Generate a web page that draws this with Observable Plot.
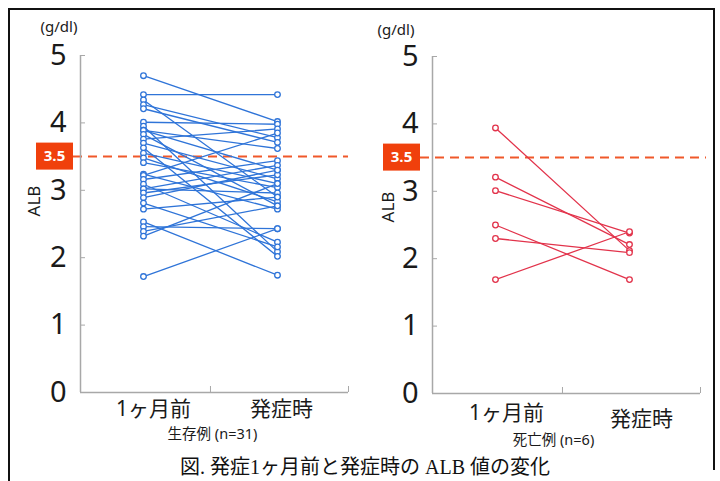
<!DOCTYPE html>
<html><head><meta charset="utf-8">
<script src="https://cdn.jsdelivr.net/npm/d3@7"></script>
<script src="https://cdn.jsdelivr.net/npm/@observablehq/plot@0.6"></script>
<style>
html,body{margin:0;padding:0;background:#fff;}
#wrap{position:relative;width:720px;height:481px;overflow:hidden;font-family:"Open Sans","Noto Sans CJK JP",sans-serif;}
#frameBox{position:absolute;left:8px;top:8px;width:703px;height:460px;border:2px solid #111;border-bottom:none;}
#leftEdge{position:absolute;left:8px;top:460px;width:2px;height:30px;background:#111;}
.panel{position:absolute;top:0;}
#caption{position:absolute;left:0;width:730px;top:455px;line-height:24px;text-align:center;font-family:"Liberation Serif","DejaVu Serif","Noto Sans CJK JP",serif;font-size:20px;color:#111;}
</style></head>
<body><div id="wrap"><div id="frameBox"></div><div id="leftEdge"></div>
<div id="p1" class="panel" style="left:0px"></div>
<div id="p2" class="panel" style="left:352px;top:1px"></div>
<div id="caption">図. 発症1ヶ月前と発症時の ALB 値の変化</div>
</div>
<script>
const categories = ["1ヶ月前", "発症時"];
const yTicks = [0, 1, 2, 3, 4, 5];
const threshold = 3.5;
const survivedBefore = [4.70, 4.42, 4.34, 4.27, 4.21, 4.01, 3.95, 3.89, 3.89, 3.83, 3.76, 3.70, 3.63, 3.55, 3.48, 3.41, 3.24, 3.22, 3.16, 3.09, 3.02, 3.02, 2.96, 2.89, 2.81, 2.72, 2.53, 2.46, 2.39, 2.32, 1.72];
const survivedAfter  = [4.02, 4.42, 2.90, 3.78, 3.71, 3.98, 2.09, 3.30, 3.62, 2.77, 3.91, 3.17, 2.02, 3.10, 2.83, 3.04, 2.72, 3.85, 3.44, 2.23, 3.37, 2.96, 3.23, 3.30, 2.16, 2.90, 1.74, 2.43, 2.77, 3.10, 2.43];
const diedBefore = [3.94, 3.21, 3.01, 2.50, 2.30, 1.69];
const diedAfter  = [2.12, 2.21, 2.38, 1.69, 2.09, 2.40];

function panel(el, o) {
  const rows = [];
  o.before.forEach((v, i) => {
    rows.push({id: i, t: 1, v});
    rows.push({id: i, t: 2, v: o.after[i]});
  });
  const plot = Plot.plot({
    width: 360, height: 481,
    marginLeft: 80, marginRight: 12, marginTop: 55, marginBottom: 89,
    style: {fontFamily: '"Noto Sans","Noto Sans CJK JP",sans-serif', background: "transparent", overflow: "visible", color: "#1a1a1a"},
    x: {type: "linear", domain: [0.53, 2.53], axis: null},
    y: {domain: [0, 5], axis: null},
    marks: [
      Plot.ruleY([threshold], {stroke: "#f0582a", strokeWidth: 2, strokeDasharray: "9,6", insetLeft: o.dashL, insetRight: o.dashR}),
      Plot.ruleX([0.53], {stroke: "#a8a8a8", strokeWidth: 1.5}),
      Plot.ruleY([0], {stroke: "#a8a8a8", strokeWidth: 1.5}),
      Plot.axisY({ticks: yTicks, tickFormat: d => String(d), tickSize: -5, tickPadding: 19, fontSize: 29, stroke: "#a8a8a8", fill: "#1a1a1a", label: null}),
      Plot.axisX({ticks: [1.5, 2.53], tickSize: -6, tickFormat: () => "", stroke: "#a8a8a8", label: null}),
      Plot.axisX({ticks: [1], tickFormat: d => categories[0], tickSize: 0, tickPadding: o.catPad1, fontSize: 21, dx: o.catDx1, fill: "#1a1a1a", label: null}),
      Plot.axisX({ticks: [2], tickFormat: d => categories[1], tickSize: 0, tickPadding: o.catPad2, fontSize: 21, dx: o.catDx2, fill: "#1a1a1a", label: null}),
      Plot.line(rows, {x: "t", y: "v", z: "id", stroke: o.color, strokeWidth: 1.3}),
      Plot.dot(rows, {x: "t", y: "v", r: 2.8, stroke: o.color, fill: "white", strokeWidth: 1.3}),
      Plot.text(["ALB"], {frameAnchor: "left", textAnchor: "middle", rotate: -90, dx: o.albDx, dy: o.albDy, fontSize: 17, fill: "#1a1a1a"}),
      Plot.text(["(g/dl)"], {frameAnchor: "top-left", dx: o.unitDx, dy: o.unitDy, fontSize: 15, fill: "#1a1a1a"}),
      Plot.text([o.sub], {frameAnchor: "bottom", dx: o.subDx, dy: o.subDy, fontSize: 14.5, fill: "#1a1a1a"})
    ]
  });
  const y35 = plot.scale("y").apply(threshold);
  const svg = d3.select(plot);
  svg.append("rect").attr("x", o.boxX).attr("y", y35 - 13.5).attr("width", 37).attr("height", 27).attr("fill", "#f0400c");
  svg.append("text").attr("x", o.boxX + 18.5).attr("y", y35).attr("dy", "0.35em").attr("text-anchor", "middle")
    .attr("fill", "white").attr("font-weight", "bold").attr("font-size", 15).attr("font-family", '"Open Sans",sans-serif').text(String(threshold));
  document.getElementById(el).appendChild(plot);
}

panel("p1", {before: survivedBefore, after: survivedAfter, color: "#2f74d8", sub: "生存例 (n=31)",
  dashL: -7, dashR: 0, boxX: 36, catPad1: 9, catPad2: 9, catDx1: 10, catDx2: 4,
  albDx: -46, albDy: -23, unitDx: -40, unitDy: -34, subDx: -2, subDy: 46});
panel("p2", {before: diedBefore, after: diedAfter, color: "#e2334b", sub: "死亡例 (n=6)",
  dashL: -12, dashR: -6, boxX: 31, catPad1: 12, catPad2: 18, catDx1: 11, catDx2: 12,
  albDx: -44, albDy: -18, unitDx: -55, unitDy: -32, subDx: -13, subDy: 51});
</script></body></html>
